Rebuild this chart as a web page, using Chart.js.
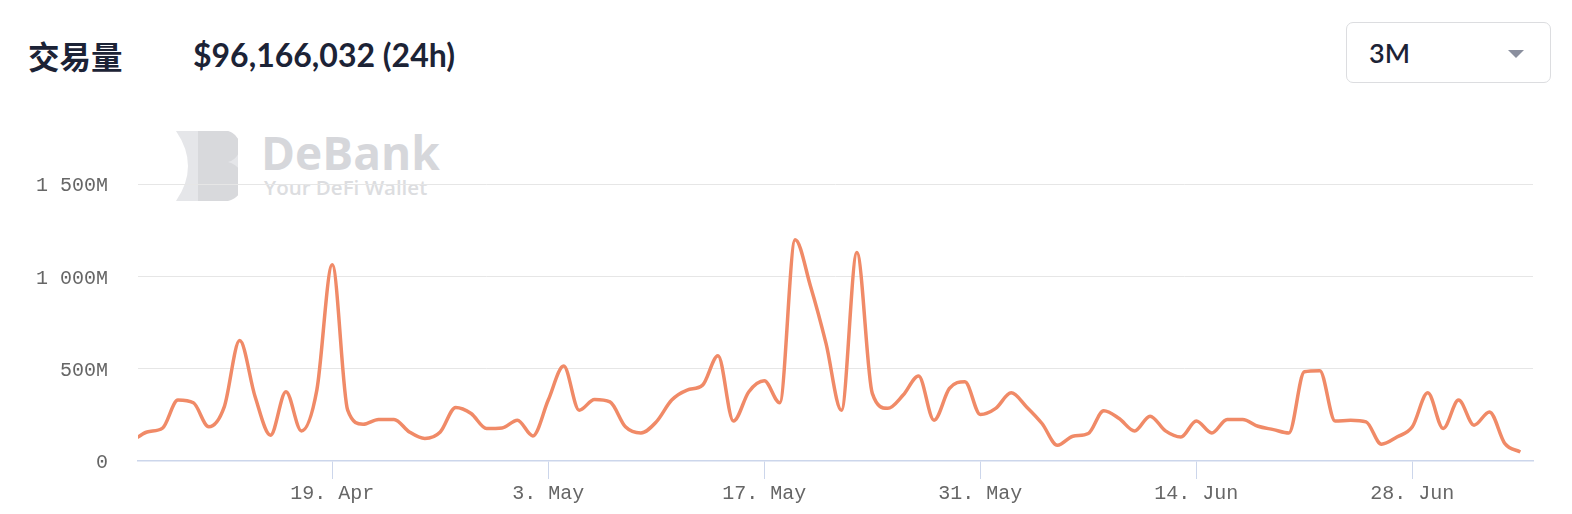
<!DOCTYPE html>
<html>
<head>
<meta charset="utf-8">
<script src="https://cdn.jsdelivr.net/npm/chart.js@4.4.1/dist/chart.umd.min.js"></script>
<style>
  body { margin: 0; width: 1572px; height: 514px; background: #fff; position: relative; overflow: hidden; }
  .titulo { position: absolute; left: 28px; top: 35px; font: 700 31.5px "Noto Sans CJK SC", sans-serif; color: #1c2336; line-height: 40px; }
  .valor { position: absolute; left: 193px; top: 35px; font: 700 32px Lato, sans-serif; color: #1c2336; line-height: 40px; }
  .seletor { position: absolute; left: 1346px; top: 22px; width: 203px; height: 59px; border: 1.5px solid #dcdde0; border-radius: 7px; }
  .seletor span { position: absolute; left: 22px; top: 13px; font: 600 27px Lato, sans-serif; color: #1c2336; line-height: 34px; }
  .seletor i { position: absolute; left: 161px; top: 27px; width: 0; height: 0; border-left: 8.5px solid transparent; border-right: 8.5px solid transparent; border-top: 8px solid #8a8f9e; }
  .marca { position: absolute; left: 176px; top: 131px; opacity: 0.9; }
  .marca-nome { position: absolute; left: 261px; top: 122px; font: 700 46px "Open Sans", sans-serif; color: #d6d7db; line-height: 60px; }
  .marca-sub { position: absolute; left: 264px; top: 174px; font: 600 20.5px "Open Sans", sans-serif; color: #dcdde0; line-height: 26px; }
  canvas { position: absolute; left: 0; top: 100px; }
</style>
</head>
<body>
<div class="titulo">交易量</div>
<div class="valor">$96,166,032 (24h)</div>
<div class="seletor"><span>3M</span><i></i></div>

<svg class="marca" width="62" height="70" viewBox="0 0 62 70">
  <path d="M0 0 H30 A35 35 0 0 1 30 70 H0 Q24 35 0 0 Z" fill="#e3e4e7"/>
  <path d="M22 0 H44 A16 16 0 0 1 52 31 A19 19 0 0 1 43 70 H22 Z" fill="#d4d5d9"/>
</svg>
<div class="marca-nome">DeBank</div>
<div class="marca-sub">Your DeFi Wallet</div>

<canvas id="graficoVolume" width="1572" height="414"></canvas>

<script>
// Volume diário (milhões USD), um ponto por dia a partir de 6 Apr
const volume = [
  107, 157, 178, 330, 315, 185, 293, 652, 348, 140,
  375, 163, 384, 1063, 275, 199, 225, 225, 157, 122,
  157, 290, 257, 176, 179, 221, 136, 330, 514, 275,
  333, 320, 185, 152, 212, 330, 384, 411, 570, 216,
  375, 434, 315, 1198, 945, 637, 275, 1129, 366, 285,
  357, 460, 221, 393, 429, 252, 285, 369, 293, 203,
  85, 134, 149, 272, 230, 163, 243, 163, 130, 217,
  152, 225, 225, 188, 170, 152, 483, 489, 216, 221,
  212, 91, 130, 185, 369, 176, 330, 194, 266, 94,
  49
];

// Posição (dia) e texto dos rótulos do eixo X
const diasTick = [13, 27, 41, 55, 69, 83];
const rotulosTick = ['19. Apr', '3. May', '17. May', '31. May', '14. Jun', '28. Jun'];

const valoresY = [0, 500, 1000, 1500];

function formatarMilhoes(v) {
    if (v === 0) return '0';
    return String(v).replace(/\B(?=(\d{3})+(?!\d))/g, ' ') + 'M';
}

const fonteEixo = { family: '"Liberation Mono", monospace', size: 20 };

new Chart(document.getElementById('graficoVolume'), {
    type: 'line',
    data: {
        datasets: [{
            label: '交易量',
            data: volume.map((v, i) => ({ x: i, y: v })),
            borderColor: '#f08a67',
            borderWidth: 3.5,
            pointRadius: 0,
            cubicInterpolationMode: 'monotone',
            clip: { left: 0, right: 5, top: 5, bottom: 5 },
        }],
    },
    options: {
        responsive: false,
        devicePixelRatio: 1,
        animation: false,
        layout: { padding: { top: 84, right: 39, left: 0, bottom: 0 } },
        plugins: { legend: { display: false }, tooltip: { enabled: false } },
        scales: {
            x: {
                type: 'linear',
                min: 0.41,
                max: 90.82,
                afterBuildTicks: (scale) => { scale.ticks = diasTick.map(v => ({ value: v })); },
                afterFit: (scale) => { scale.height = 53; },
                ticks: {
                    autoSkip: false,
                    maxRotation: 0,
                    padding: 3,
                    color: '#666',
                    font: fonteEixo,
                    callback: (v, i) => rotulosTick[i],
                },
                grid: { drawOnChartArea: false, drawTicks: true, tickLength: 18, color: '#ccd6eb', lineWidth: 1 },
                border: { display: true, color: '#ccd6eb', width: 1.5 },
            },
            y: {
                min: 0,
                max: 1500,
                afterBuildTicks: (scale) => { scale.ticks = valoresY.map(v => ({ value: v })); },
                afterFit: (scale) => { scale.width = 138; },
                ticks: {
                    padding: 30,
                    labelOffset: 2,
                    color: '#666',
                    font: fonteEixo,
                    callback: (v) => formatarMilhoes(v),
                },
                grid: {
                    drawTicks: false,
                    color: (ctx) => ctx.tick && ctx.tick.value === 0 ? 'rgba(0,0,0,0)' : '#e6e6e6',
                    lineWidth: 1,
                },
                border: { display: false },
            },
        },
    },
});
</script>
</body>
</html>
